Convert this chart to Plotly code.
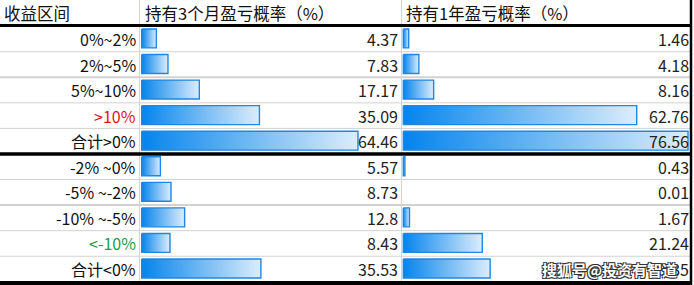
import plotly.graph_objects as go

# ---- data ----
categories = ["0%~2%", "2%~5%", "5%~10%", ">10%", "合计>0%",
              "-2% ~0%", "-5% ~-2%", "-10% ~-5%", "<-10%", "合计<0%"]
prob_3m = [4.37, 7.83, 17.17, 35.09, 64.46, 5.57, 8.73, 12.8, 8.43, 35.53]
prob_1y = [1.46, 4.18, 8.16, 62.76, 76.56, 0.43, 0.01, 1.67, 21.24, 23.35]
headers = ["收益区间", "持有3个月盈亏概率（%）", "持有1年盈亏概率（%）"]
label_colors = {">10%": "#e3141c", "<-10%": "#1c9c52"}
watermark = "搜狐号@投资有智道"

# ---- geometry (pixels) ----
W, H = 694, 285
row0_c, row_h = 13.4, 25.56
x0_3m, ppu_3m = 141.7, 3.355
x0_1y, ppu_1y = 403.3, 3.719
FONT = "Noto Sans CJK SC"

def px(x):
    return x / W

fig = go.Figure()
grad = dict(type="horizontal", colorscale=[[0, "#0584ec"], [1, "#dcedfc"]])
for series, axis in ((prob_3m, "x"), (prob_1y, "x2")):
    for k, v in enumerate(series, start=1):
        top, bot = k - 0.39, k + 0.35
        fig.add_trace(go.Scatter(
            x=[0, v, v, 0, 0], y=[top, top, bot, bot, top],
            xaxis=axis, yaxis="y", mode="lines", fill="toself",
            fillgradient=grad,
            line=dict(color="#1f86e2", width=1.4 if v * ppu_1y > 0.2 else 0),
            hoverinfo="skip", showlegend=False))

shapes = []
def hline(yv, color, width, yref="y"):
    shapes.append(dict(type="line", xref="paper", yref=yref, x0=0, x1=px(692),
                       y0=yv, y1=yv, line=dict(color=color, width=width), layer="below"))

for k in range(1, 10):
    if k == 5:
        continue
    hline(k + 0.5, "#d2d2d2", 2 if k in (2, 7) else 1)
# vertical column dividers
for xv in (139.5, 401.5):
    shapes.append(dict(type="line", xref="paper", yref="paper", x0=px(xv), x1=px(xv),
                       y0=0, y1=1, line=dict(color="#d9d3ca", width=1), layer="below"))
# thick black lines
shapes.append(dict(type="line", xref="paper", yref="y", x0=0, x1=px(692), y0=0.47, y1=0.47,
                   line=dict(color="#000", width=3)))
shapes.append(dict(type="line", xref="paper", yref="y", x0=0, x1=px(692), y0=5.5, y1=5.5,
                   line=dict(color="#000", width=3.5)))
shapes.append(dict(type="line", xref="paper", yref="paper", x0=0, x1=px(692),
                   y0=1 - 283 / H, y1=1 - 283 / H, line=dict(color="#000", width=4)))
shapes.append(dict(type="line", xref="paper", yref="paper", x0=px(691), x1=px(691),
                   y0=0, y1=1, line=dict(color="#000", width=2.5)))

ann = []
for xv, t in zip((2, 143, 404), headers):
    ann.append(dict(text=t, x=px(xv), xref="paper", y=0, yref="y", xanchor="left",
                    yanchor="middle", showarrow=False,
                    font=dict(family=FONT, size=16.5, color="#111")))
for k, (c, a, b) in enumerate(zip(categories, prob_3m, prob_1y), start=1):
    ann.append(dict(text=c, x=px(137.5), xref="paper", y=k, yref="y", xanchor="right",
                    yanchor="middle", showarrow=False,
                    font=dict(family=FONT, size=16, color=label_colors.get(c, "#111"))))
    ann.append(dict(text=f"{a:g}", x=px(399.5), xref="paper", y=k, yref="y", xanchor="right",
                    yanchor="middle", showarrow=False,
                    font=dict(family=FONT, size=16, color="#222")))
    ann.append(dict(text=f"{b:g}", x=px(690.5), xref="paper", y=k, yref="y", xanchor="right",
                    yanchor="middle", showarrow=False,
                    font=dict(family=FONT, size=16, color="#222")))
ann.append(dict(text=watermark, x=px(540), xref="paper", y=10, yref="y", xanchor="left",
                yanchor="middle", showarrow=False,
                font=dict(family=FONT, size=15, color="#ffffff", weight="bold",
                          shadow="1px 1px 0 #333, -1px -1px 0 #333, 1px -1px 0 #333, -1px 1px 0 #333")))

fig.update_layout(
    width=W, height=H, margin=dict(l=0, r=0, t=0, b=0),
    paper_bgcolor="white", plot_bgcolor="white",
    xaxis=dict(range=[-x0_3m / ppu_3m, (W - x0_3m) / ppu_3m], domain=[0, 1],
               visible=False, fixedrange=True),
    xaxis2=dict(range=[-x0_1y / ppu_1y, (W - x0_1y) / ppu_1y], domain=[0, 1],
                overlaying="x", visible=False, fixedrange=True),
    yaxis=dict(range=[(H - row0_c) / row_h, -row0_c / row_h], domain=[0, 1],
               visible=False, fixedrange=True),
    shapes=shapes, annotations=ann, showlegend=False,
)
fig.write_html("out.html", config={"displayModeBar": False})
